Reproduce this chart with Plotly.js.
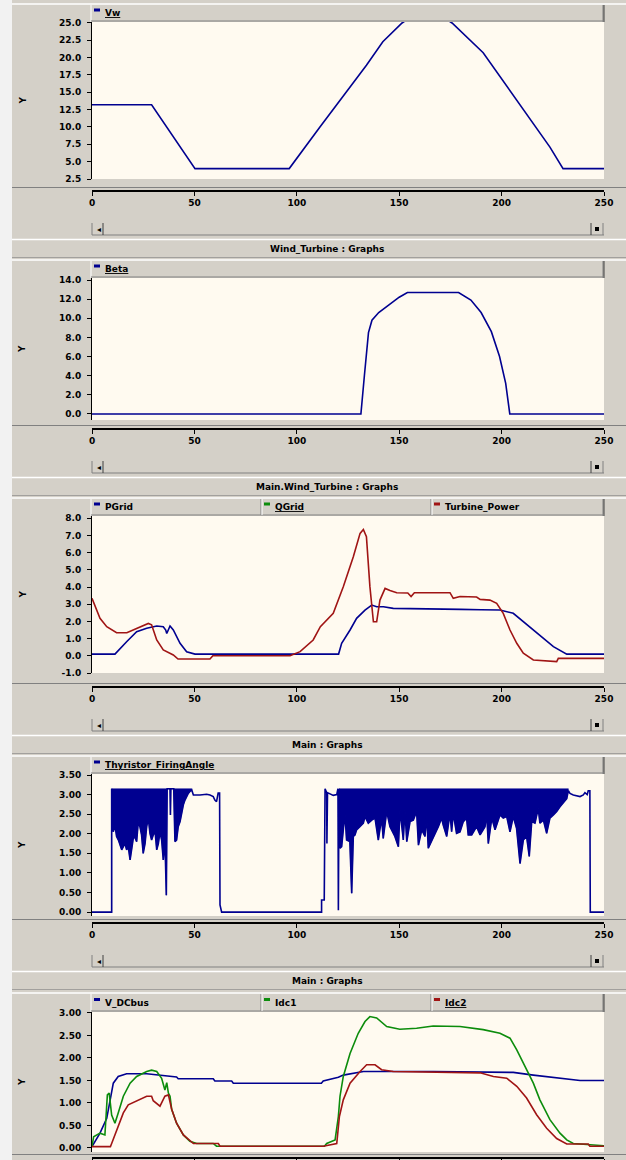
<!DOCTYPE html>
<html><head><meta charset="utf-8">
<script src="https://cdn.plot.ly/plotly-3.0.1.min.js"></script>
<style>html,body{margin:0;padding:0;background:#D4D0C8;}#chart{width:626px;height:1160px;}</style>
</head><body><div id="chart"></div>
<script>
// ---------------- DATA ----------------
const xTicks = [0, 50, 100, 150, 200, 250];
const xTickText = ['0', '50', '100', '150', '200', '250'];

const panelTitles = ['Wind_Turbine : Graphs', 'Main.Wind_Turbine : Graphs', 'Main : Graphs', 'Main : Graphs'];
const seriesNames = [['Vw'], ['Beta'], ['PGrid', 'QGrid', 'Turbine_Power'], ['Thyristor_FiringAngle'], ['V_DCbus', 'Idc1', 'Idc2']];
const yLabel = 'Y';

const yTicks1 = [2.5, 5, 7.5, 10, 12.5, 15, 17.5, 20, 22.5, 25];
const yText1 = ['2.5', '5.0', '7.5', '10.0', '12.5', '15.0', '17.5', '20.0', '22.5', '25.0'];
const yTicks2 = [0, 2, 4, 6, 8, 10, 12, 14];
const yText2 = ['0.0', '2.0', '4.0', '6.0', '8.0', '10.0', '12.0', '14.0'];
const yTicks3 = [-1, 0, 1, 2, 3, 4, 5, 6, 7, 8];
const yText3 = ['-1.0', '0.0', '1.0', '2.0', '3.0', '4.0', '5.0', '6.0', '7.0', '8.0'];
const yTicks4 = [0, 0.5, 1, 1.5, 2, 2.5, 3, 3.5];
const yText4 = ['0.00', '0.50', '1.00', '1.50', '2.00', '2.50', '3.00', '3.50'];
const yTicks5 = [0, 0.5, 1, 1.5, 2, 2.5, 3];
const yText5 = ['0.00', '0.50', '1.00', '1.50', '2.00', '2.50', '3.00'];

// Panel 1: wind speed
const vw_t = [0, 29.1, 50.3, 96.3, 111.3, 134, 142, 151.4, 157, 163.6, 170, 175.8, 191, 207.5, 223.6, 230, 250];
const vw   = [13.2, 13.2, 4.0, 4.0, 10.0, 18.9, 22.3, 25.0, 26.1, 26.5, 26.1, 25.0, 20.7, 13.9, 7.1, 4.0, 4.0];

// Panel 2: pitch angle
const beta_t = [0, 131.3, 133, 135, 136.7, 140, 145, 150, 154, 179, 185, 190, 195, 199, 202, 204, 250];
const beta   = [0, 0, 4.0, 8.5, 9.8, 10.6, 11.4, 12.2, 12.7, 12.7, 11.9, 10.6, 8.6, 6.0, 3.2, 0, 0];

// Panel 3: powers
const pgrid_t = [0, 11.2, 16.9, 21.8, 26.7, 31.6, 34.8, 36.0, 36.5, 37.5, 38.1, 39.7, 43.0, 46.2, 50.3, 120.4, 121.9, 126, 129.2, 133.3, 136.6, 139, 142.3, 147.1, 160, 170, 180, 190, 199.2, 205.7, 215.5, 225.3, 231.8, 250];
const pgrid   = [0.1, 0.1, 0.82, 1.4, 1.6, 1.73, 1.69, 1.5, 1.3, 1.6, 1.73, 1.5, 0.73, 0.24, 0.1, 0.1, 0.73, 1.5, 2.18, 2.66, 2.95, 2.85, 2.85, 2.76, 2.72, 2.70, 2.70, 2.68, 2.66, 2.47, 1.5, 0.53, 0.1, 0.1];
const tpow_t = [0, 3.9, 7.2, 12, 17, 23.4, 27.5, 29.1, 31.6, 34.8, 39.7, 42, 57.6, 59, 96.7, 101.6, 108, 111.5, 117.8, 122.7, 127.6, 130.9, 132.5, 134, 135.7, 137.4, 139, 140.6, 143.1, 145.5, 148.8, 154.2, 155.8, 157.4, 174.8, 176.4, 179.7, 187.8, 189.5, 194.3, 197.6, 200.8, 204.1, 207.4, 210.6, 215.5, 226.9, 227.7, 250];
const tpow   = [3.34, 2.18, 1.69, 1.34, 1.34, 1.69, 1.88, 1.80, 0.92, 0.34, 0.05, -0.19, -0.19, 0.0, 0.0, 0.24, 0.92, 1.69, 2.47, 4.02, 5.76, 7.12, 7.35, 6.92, 4.02, 1.98, 1.98, 3.24, 3.92, 3.80, 3.67, 3.65, 3.45, 3.67, 3.67, 3.34, 3.45, 3.42, 3.28, 3.24, 3.05, 2.47, 1.50, 0.73, 0.15, -0.24, -0.34, -0.15, -0.15];

// Panel 4: thyristor firing angle  [time, value]
const fa_pts = [[0,0],[9.6,0],[9.6,3.15],[10.4,2.05],[11.2,2.22],[12.0,1.93],[12.9,1.84],[13.7,1.71],[14.5,1.59],[15.3,1.67],[16.1,1.75],[16.9,1.59],[17.7,1.67],[18.6,1.33],[19.4,1.59],[20.2,1.90],[21.0,1.90],[21.8,1.80],[22.6,2.31],[23.4,2.18],[24.2,1.97],[25.0,1.50],[25.9,1.75],[26.7,2.18],[27.5,2.40],[28.3,2.01],[29.1,1.84],[29.9,1.97],[30.8,2.05],[31.6,1.59],[32.4,1.75],[33.2,2.05],[34.0,1.84],[34.8,1.33],[35.6,1.84],[36.3,0.43],[36.7,3.15],[38.1,3.15],[38.3,2.48],[38.5,3.15],[39.9,3.15],[40.5,1.80],[41.3,1.84],[42.1,2.18],[43.0,2.31],[43.8,2.57],[44.6,2.74],[45.4,2.86],[46.2,2.95],[47.0,3.03],[47.8,3.08],[48.7,3.12],[49.5,2.99],[52.7,2.99],[56.0,3.01],[57.6,2.99],[59.2,2.95],[60.0,2.86],[60.8,2.82],[61.6,3.04],[62.3,3.04],[62.5,0.18],[63.3,0.0],[112.1,0.0],[112.1,0.31],[113.4,0.31],[113.8,3.15],[114.6,3.05],[114.7,1.75],[115.0,3.05],[117.8,2.98],[119.5,3.00],[120.1,3.15],[120.3,0.05],[120.6,3.15],[121.1,1.63],[121.9,1.67],[122.4,1.93],[123.5,2.52],[124.3,1.84],[125.9,1.80],[126.8,0.48],[127.6,1.93],[128.4,1.97],[129.2,2.10],[130.8,2.18],[132.5,2.27],[133.3,2.44],[134.9,2.27],[136.6,2.35],[138.2,2.40],[139.8,1.84],[141.4,2.40],[142.2,1.88],[143.9,2.57],[145.5,2.18],[147.9,1.93],[149.6,1.67],[150.4,2.61],[152.0,1.84],[152.8,2.61],[153.7,1.80],[155.3,2.31],[156.9,2.35],[158.5,2.57],[159.4,1.71],[161.0,2.10],[162.6,1.93],[163.4,2.48],[164.2,1.63],[165.8,1.80],[167.5,1.97],[169.1,2.18],[170.7,2.40],[171.5,2.22],[173.2,1.93],[174.8,2.52],[175.6,2.05],[176.4,2.52],[178.0,2.01],[179.7,2.05],[181.3,2.31],[182.9,2.40],[183.7,1.97],[185.4,1.97],[187.8,2.18],[189.5,1.97],[191.9,2.18],[192.7,2.52],[193.5,1.75],[195.2,2.40],[196.8,2.10],[199.2,2.48],[200.8,2.40],[202.5,2.44],[204.1,2.05],[205.7,2.44],[207.3,2.14],[209.0,1.24],[210.6,1.84],[212.2,1.93],[213.5,1.42],[214.7,2.31],[216.3,2.27],[217.9,2.65],[218.7,2.27],[220.4,2.35],[222.0,2.01],[223.6,2.40],[225.3,2.48],[226.9,2.57],[228.5,2.69],[230.1,2.78],[231.8,2.90],[232.6,3.10],[233.4,3.03],[235.0,2.99],[238.3,2.95],[239.9,2.99],[240.7,3.05],[241.8,3.00],[242.3,3.10],[243.1,3.10],[243.3,0.0],[250,0.0]];
const fa_mass = [[9.6, 48.7], [120.6, 232.6]];   // dense-switching intervals
const fa_top = 3.15;                               // upper limit reached while switching

// Panel 5: DC bus
const vdc_t = [0, 3.9, 7.2, 8.8, 10.4, 12.8, 16.9, 26.7, 31.6, 41.3, 42.1, 59.2, 60, 68.2, 69, 112, 112.9, 120.3, 122.7, 132.5, 166.6, 205.7, 215.5, 225.3, 238.3, 250];
const vdc   = [0.03, 0.33, 0.66, 1.07, 1.44, 1.59, 1.65, 1.65, 1.63, 1.58, 1.54, 1.54, 1.49, 1.49, 1.44, 1.44, 1.49, 1.57, 1.62, 1.70, 1.70, 1.68, 1.62, 1.57, 1.50, 1.50];
const idc1_t = [0, 0.8, 3.9, 6.3, 7.5, 8.4, 9.6, 11.2, 12.8, 15.3, 18.6, 21.8, 26.7, 29.1, 31.6, 34.0, 35.6, 36.5, 37.3, 38.1, 38.9, 41.3, 44.6, 47.8, 51.1, 59.2, 60.8, 113.5, 114.6, 118.7, 120.3, 121.1, 122.7, 126, 130, 133.3, 135.7, 139, 143.9, 150.3, 158.5, 166.6, 179.7, 191, 199.2, 204.1, 207.4, 212.2, 215.5, 218.7, 223.6, 228.5, 231.8, 235, 250];
const idc1   = [0.03, 0.25, 0.33, 0.29, 1.18, 1.22, 0.73, 0.55, 0.78, 1.15, 1.44, 1.59, 1.70, 1.73, 1.70, 1.55, 1.29, 1.45, 1.22, 1.15, 0.86, 0.55, 0.29, 0.15, 0.10, 0.10, 0.04, 0.04, 0.10, 0.18, 0.70, 1.15, 1.59, 2.10, 2.55, 2.81, 2.92, 2.89, 2.70, 2.64, 2.66, 2.71, 2.70, 2.63, 2.55, 2.44, 2.18, 1.73, 1.44, 1.07, 0.63, 0.33, 0.18, 0.10, 0.05];
const idc2_t = [0, 9.0, 9.6, 11.2, 12.8, 15.3, 17.7, 21.8, 26.7, 29.1, 29.9, 33.2, 35.6, 37.3, 38.9, 41.3, 44.6, 49.5, 61.7, 62.5, 112.9, 119.5, 120.8, 122.7, 126, 130.9, 134.1, 138.2, 141.4, 147.1, 189.5, 196, 202.5, 207.4, 212.2, 217.1, 222, 226.9, 231.8, 242.3, 243.1, 250];
const idc2   = [0.03, 0.03, 0.10, 0.29, 0.50, 0.78, 0.96, 1.04, 1.15, 1.15, 1.05, 0.93, 1.15, 1.18, 0.86, 0.55, 0.29, 0.10, 0.10, 0.04, 0.04, 0.10, 0.70, 1.07, 1.44, 1.70, 1.85, 1.85, 1.74, 1.70, 1.67, 1.59, 1.55, 1.37, 1.11, 0.74, 0.44, 0.21, 0.09, 0.09, 0.04, 0.04];

// ---------------- STYLE / LAYOUT ----------------
const BLUE = '#000090', GREEN = '#0C8C0C', RED = '#A01414';
const GREY = '#D4D0C8', SHADOW = '#808080', CREAM = '#FFFAF0';
const FONT = 'DejaVu Sans';
const W = 626, H = 1160, L = 92, R = 604;
const X = v => v / W, Y = v => 1 - v / H;
const tickFont = {family: FONT, size: 9, color: '#000', weight: 'bold'};

const seriesColors = [[BLUE], [BLUE], [BLUE, GREEN, RED], [BLUE], [BLUE, GREEN, RED]];
const underlined = [[true], [true], [false, true, false], [true], [false, false, true]];

const panels = [
  {plot: [22, 179], leg: [4, 22], axis: 190, range: [2.5, 25.14], tv: yTicks1, tt: yText1},
  {plot: [278, 420], leg: [260, 278], axis: 428, range: [-0.63, 14.21], tv: yTicks2, tt: yText2},
  {plot: [516, 673], leg: [498, 516], axis: 686, range: [-1.0, 8.13], tv: yTicks3, tt: yText3},
  {plot: [774, 916], leg: [756, 774], axis: 922, range: [-0.10, 3.526], tv: yTicks4, tt: yText4},
  {plot: [1012, 1152], leg: [993, 1012], axis: 1157, range: [-0.089, 3.022], tv: yTicks5, tt: yText5}
];

const layout = {
  width: W, height: H, margin: {l: 0, r: 0, t: 0, b: 0},
  paper_bgcolor: GREY, plot_bgcolor: CREAM, showlegend: false,
  shapes: [], annotations: []
};

function line(x0, y0, x1, y1, color, w) {
  return {type: 'line', xref: 'paper', yref: 'paper', x0: X(x0), y0: Y(y0), x1: X(x1), y1: Y(y1), line: {color: color, width: w || 1}};
}
function rect(x0, y0, x1, y1, fill, lc, lw) {
  return {type: 'rect', xref: 'paper', yref: 'paper', x0: X(x0), y0: Y(y0), x1: X(x1), y1: Y(y1), fillcolor: fill, line: {color: lc || fill, width: lw || 0}};
}
function ann(x, y, text, opts) {
  return Object.assign({xref: 'paper', yref: 'paper', x: X(x), y: Y(y), text: text, showarrow: false,
    xanchor: 'left', yanchor: 'middle', font: {family: FONT, size: 9, color: '#000', weight: 'bold'}}, opts || {});
}

const S = layout.shapes, A = layout.annotations;
S.push(rect(0, 0, 12, H, '#F2F2F2'));

panels.forEach((p, i) => {
  const n = i + 1;
  const xa = n === 1 ? 'xaxis' : 'xaxis' + n;
  const ya = n === 1 ? 'yaxis' : 'yaxis' + n;
  layout[xa] = {
    domain: [X(L), X(R)], range: [0, 250], anchor: 'free', position: Y(p.axis),
    showline: true, linecolor: '#000', linewidth: 1.5, ticks: 'outside', ticklen: 4, tickcolor: '#000',
    tickvals: xTicks, ticktext: xTickText, tickfont: tickFont, showgrid: false, zeroline: false,
    showticklabels: n < 5, fixedrange: true
  };
  layout[ya] = {
    domain: [Y(p.plot[1]), Y(p.plot[0])], range: p.range, anchor: n === 1 ? 'x' : 'x' + n,
    showline: true, linecolor: '#000', linewidth: 1, ticks: 'outside', ticklen: 4, tickcolor: '#000',
    tickvals: p.tv, ticktext: p.tt, tickfont: tickFont, showgrid: false, zeroline: false,
    ticklabelstandoff: 4, fixedrange: true
  };

  // legend bar
  const [lt, lb] = p.leg;
  S.push(line(12, lt, W, lt, '#FFFFFF', 1.5));
  S.push(line(L - 1, lt + 1, L - 1, lb, '#FFFFFF', 1));
  S.push(line(R - 1, lt + 1, R - 1, lb, SHADOW, 1));
  S.push(line(R, lt + 1, R, lb, '#404040', 1));
  S.push(line(L - 1, lb - 1, R, lb - 1, SHADOW, 1));
  const names = seriesNames[i];
  const segW = names.length > 1 ? 170 : 0;
  names.forEach((nm, k) => {
    const sx = L + k * segW;
    if (k > 0) {
      S.push(line(sx - 1, lt + 1, sx - 1, lb - 1, SHADOW, 1));
      S.push(line(sx, lt + 1, sx, lb - 1, '#FFFFFF', 1));
    }
    const cy = (lt + lb) / 2;
    S.push(rect(sx + 2, cy - 4.5, sx + 8, cy - 1.5, seriesColors[i][k]));
    const txt = underlined[i][k] ? '<span style="text-decoration:underline">' + nm + '</span>' : nm;
    A.push(ann(sx + 11, cy, txt));
  });

  // Y label
  A.push(ann(22, (p.plot[0] + p.plot[1]) / 2, yLabel, {xanchor: 'center', textangle: -90}));

  // frame bottom line
  S.push(line(12, p.axis - 2.5, W, p.axis - 2.5, SHADOW, 1));

  if (n < 5) {
    // scrollbar
    const sc = p.axis + 39;
    S.push(line(L, sc + 6, R, sc + 6, SHADOW, 1));
    S.push(line(L, sc - 6, L, sc + 6, SHADOW, 1));
    S.push(line(L + 11, sc - 6, L + 11, sc + 6, '#404040', 1));
    A.push(ann(L + 3, sc, '\u25C2', {font: {family: FONT, size: 8, color: '#000'}}));
    S.push(line(R - 13, sc - 6, R - 13, sc + 6, '#404040', 1));
    S.push(line(R - 1, sc - 6, R - 1, sc + 6, SHADOW, 1));
    S.push(rect(R - 9, sc - 2, R - 5, sc + 2, '#000'));
    // title bar
    const tc = p.axis + 59;
    S.push(line(12, tc - 9.5, W, tc - 9.5, '#FFFFFF', 1.5));
    S.push(line(12, tc + 8.5, W, tc + 8.5, SHADOW, 0.6));
    A.push(ann(327, tc, panelTitles[i], {xanchor: 'center'}));
  }
});

// ---------------- TRACES ----------------
const ax = n => n === 1 ? {xaxis: 'x', yaxis: 'y'} : {xaxis: 'x' + n, yaxis: 'y' + n};
const ln = (x, y, color, n) => Object.assign({type: 'scatter', mode: 'lines', x: x, y: y, line: {color: color, width: 1.6}, hoverinfo: 'skip'}, ax(n));

const traces = [];
traces.push(ln(vw_t, vw, BLUE, 1));
traces.push(ln(beta_t, beta, BLUE, 2));
traces.push(ln(pgrid_t, pgrid, BLUE, 3));
traces.push(ln(tpow_t, tpow, RED, 3));

const fa_t = fa_pts.map(d => d[0]);
const fa_v = fa_pts.map(d => d[1]);
fa_mass.forEach(([a, b]) => {
  const seg = fa_pts.filter(d => d[0] >= a && d[0] <= b);
  const px = seg.map(d => d[0]).concat([b, a]);
  const pv = seg.map(d => d[1]).concat([fa_top, fa_top]);
  traces.push(Object.assign({type: 'scatter', mode: 'lines', x: px, y: pv, fill: 'toself', fillcolor: BLUE,
    line: {color: BLUE, width: 0.5}, hoverinfo: 'skip'}, ax(4)));
});
traces.push(ln(fa_t, fa_v, BLUE, 4));

traces.push(ln(vdc_t, vdc, BLUE, 5));
traces.push(ln(idc1_t, idc1, GREEN, 5));
traces.push(ln(idc2_t, idc2, RED, 5));

Plotly.newPlot('chart', traces, layout, {staticPlot: true, displayModeBar: false});
</script>
</body></html>
